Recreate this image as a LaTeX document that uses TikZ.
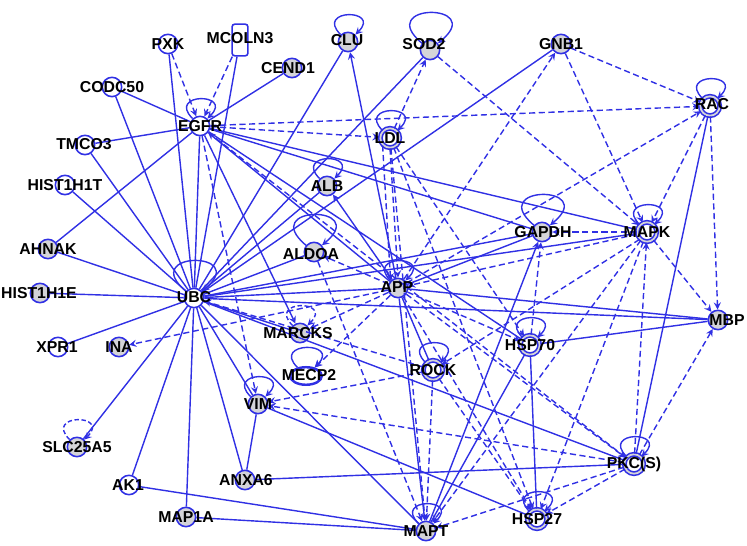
\documentclass[tikz,border=0pt]{standalone}
\usepackage{fontspec}
\setmainfont{Liberation Sans}
\usepackage{tikz}
\usetikzlibrary{shapes.geometric}
\usetikzlibrary{arrows}
\usetikzlibrary{shapes}

\definecolor{ipablue}{RGB}{48,48,228}
\definecolor{ipagray}{RGB}{212,212,216}

\tikzset{
  gene/.style={circle, draw=ipablue, fill=ipagray, line width=0.9pt, minimum size=11pt, inner sep=0pt},
  wgene/.style={gene, fill=white},
  cplx/.style={gene, fill=white, double=ipagray, double distance=1pt},
  chan/.style={rectangle, rounded corners=1.5pt, draw=ipablue, fill=white, line width=0.9pt, minimum width=9pt, minimum height=18pt, inner sep=0pt},
  peanut/.style={ellipse, draw=ipablue, fill=white, line width=1.4pt, minimum width=18pt, minimum height=10pt, inner sep=0pt},
  lbl/.style={font=\bfseries\fontsize{9}{10}\selectfont, text=black, inner sep=0pt},
  link/.style={draw=ipablue, line width=0.8pt},
  linkto/.style={link, -stealth},
  indl/.style={link, dash pattern=on 3.5pt off 2pt, -stealth},
  selfl/.style={link, -stealth, out=135, in=45, min distance=21pt},
  bigself/.style={selfl, out=140, in=40, min distance=36pt},
  selfd/.style={selfl, dash pattern=on 2.5pt off 1.5pt}
}

\begin{document}
\begin{tikzpicture}[x=0.02cm, y=-0.02cm]
        \useasboundingbox (0, 0) rectangle (747, 546);

        \node [wgene] (PXK) at (168, 44) {};
        \node [chan] (MCOLN3) at (240, 40) {};
        \node [gene] (CLU) at (348, 42) {};
        \node [gene] (SOD2) at (430, 50) {};
        \node [gene] (CEND1) at (292, 68) {};
        \node [gene] (GNB1) at (561, 44) {};
        \node [cplx] (RAC) at (710, 106) {};
        \node [wgene] (CODC50) at (112, 87) {};
        \node [wgene] (EGFR) at (200, 126) {};
        \node [cplx] (LDL) at (390, 138) {};
        \node [wgene] (TMCO3) at (85, 145) {};
        \node [wgene] (HIST1H1T) at (65, 185) {};
        \node [gene] (ALB) at (327, 186) {};
        \node [gene] (AHNAK) at (48, 249) {};
        \node [gene] (ALDOA) at (314, 252) {};
        \node [gene] (GAPDH) at (542, 232) {};
        \node [cplx] (MAPK) at (647, 232) {};
        \node [gene] (APP) at (398, 288) {};
        \node [wgene] (UBC) at (194, 298) {};
        \node [gene] (HIST1H1E) at (40, 293) {};
        \node [wgene] (XPR1) at (58, 347) {};
        \node [gene] (INA) at (119, 347) {};
        \node [gene] (MARCKS) at (300, 333) {};
        \node [peanut] (MECP2) at (306, 376) {};
        \node [cplx] (ROCK) at (433, 370) {};
        \node [cplx] (HSP70) at (530, 345) {};
        \node [gene] (MBP) at (718, 320) {};
        \node [gene] (VIM) at (258, 404) {};
        \node [gene] (SLC25A5) at (77, 447) {};
        \node [gene] (ANXA6) at (245, 480) {};
        \node [cplx] (PKCS) at (634, 464) {};
        \node [wgene] (AK1) at (129, 485) {};
        \node [gene] (MAP1A) at (186, 517) {};
        \node [gene] (MAPT) at (426, 531) {};
        \node [cplx] (HSP27) at (537, 519) {};

        \draw [link] (UBC) -- (HIST1H1T);
        \draw [link] (UBC) -- (AHNAK);
        \draw [link] (UBC) -- (HIST1H1E);
        \draw [link] (UBC) -- (XPR1);
        \draw [link] (UBC) -- (SLC25A5);
        \draw [link] (UBC) -- (AK1);
        \draw [link] (UBC) -- (MAP1A);
        \draw [link] (UBC) -- (ANXA6);
        \draw [link] (UBC) -- (VIM);
        \draw [link] (UBC) -- (MAPT);
        \draw [link] (UBC) -- (MARCKS);
        \draw [link] (UBC) -- (APP);
        \draw [link] (UBC) -- (EGFR);
        \draw [link] (UBC) -- (CLU);
        \draw [link] (UBC) -- (SOD2);
        \draw [link] (UBC) -- (GNB1);
        \draw [link] (UBC) -- (MCOLN3);
        \draw [link] (UBC) -- (PXK);
        \draw [link] (UBC) -- (CODC50);
        \draw [link] (UBC) -- (TMCO3);
        \draw [link] (UBC) -- (ALDOA);
        \draw [link] (UBC) -- (GAPDH);
        \draw [link] (UBC) -- (MAPK);
        \draw [link] (UBC) -- (MBP);
        \draw [link] (UBC) -- (PKCS);
        \draw [link] (UBC) -- (ALB);

        \draw [indl] (PXK) -- (EGFR);
        \draw [indl] (MCOLN3) -- (EGFR);
        \draw [link] (CODC50) -- (EGFR);
        \draw [link] (TMCO3) -- (EGFR);
        \draw [link] (CEND1) -- (EGFR);
        \draw [link] (AHNAK) -- (EGFR);
        \draw [link] (EGFR) -- (MAPK);
        \draw [link] (EGFR) -- (GAPDH);
        \draw [link] (EGFR) -- (HSP70);
        \draw [linkto] (APP) -- (EGFR);
        \draw [linkto] (EGFR) -- (MARCKS);
        \draw [indl] (EGFR) -- (RAC);
        \draw [indl] (EGFR) -- (LDL);
        \draw [indl] (EGFR) -- (VIM);
        \draw [indl] (EGFR) -- (PKCS);

        \draw [linkto] (APP) -- (ALB);
        \draw [linkto] (APP) -- (CLU);
        \draw [indl] (LDL) -- (SOD2);
        \draw [indl] (LDL.south west) -- (APP.north west);
        \draw [indl] (LDL.south) -- (APP.north);
        \draw [indl] (LDL) -- (HSP70);
        \draw [indl] (LDL) -- (MAPT);
        \draw [indl] (LDL) -- (HSP27);
        \draw [indl] (SOD2) -- (MAPK);
        \draw [indl] (APP) -- (GNB1);
        \draw [indl] (GNB1) -- (RAC);
        \draw [indl] (GNB1) -- (MAPK);
        \draw [indl] (APP) -- (RAC);
        \draw [indl] (RAC) -- (MAPK);
        \draw [indl] (RAC) -- (MBP);
        \draw [link] (RAC) -- (PKCS);

        \draw [indl] (APP) -- (ALDOA);
        \draw [indl] (ALDOA) -- (MAPT);
        \draw [link] (APP) -- (GAPDH);
        \draw [indl] (MAPK) -- (APP);
        \draw [link] (APP) -- (MBP);
        \draw [indl] (APP) -- (HSP70);
        \draw [link] (APP) -- (ROCK);
        \draw [linkto] (APP) -- (MAPT);
        \draw [indl] (APP) -- (HSP27);
        \draw [indl] (APP) -- (PKCS);
        \draw [indl] (APP) -- (MARCKS);
        \draw [indl] (APP) -- (MECP2);
        \draw [indl] (APP) -- (INA);

        \draw [indl] (MAPK) -- (MBP);
        \draw [indl] (MAPK) -- (HSP27);
        \draw [indl] (MAPK) -- (MAPT);
        \draw [indl] (MAPK) -- (GAPDH);
        \draw [indl] (MAPK.south west) -- (ROCK);
        \draw [indl] (PKCS) -- (MAPK);
        \draw [indl] (PKCS) -- (MBP);
        \draw [indl] (PKCS) -- (HSP27);
        \draw [indl] (PKCS) -- (MAPT);
        \draw [indl] (PKCS) -- (VIM);
        \draw [link] (ANXA6) -- (PKCS);

        \draw [link] (HSP70) -- (MBP);
        \draw [link] (HSP70) -- (MAPT);
        \draw [link] (HSP70) -- (HSP27);
        \draw [indl] (HSP70) -- (GAPDH);
        \draw [linkto] (MAPT) -- (GAPDH);

        \draw [indl] (ROCK) -- (VIM);
        \draw [indl] (ROCK) -- (MAPT);
        \draw [indl] (ROCK) -- (HSP27);
        \draw [indl] (ROCK) -- (UBC);
        \draw [link] (VIM) -- (ANXA6);
        \draw [link] (VIM) -- (HSP27);
        \draw [link] (AK1) -- (MAPT);
        \draw [link] (MAP1A) -- (MAPT);

        \draw [selfl] (CLU) to (CLU);
        \draw [bigself] (SOD2) to (SOD2);
        \draw [selfl] (RAC) to (RAC);
        \draw [selfl] (EGFR) to (EGFR);
        \draw [selfl] (LDL) to (LDL);
        \draw [selfl] (ALB) to (ALB);
        \draw [bigself] (ALDOA) to (ALDOA);
        \draw [bigself] (GAPDH) to (GAPDH);
        \draw [selfl] (MAPK) to (MAPK);
        \draw [selfl] (APP) to (APP);
        \draw [bigself] (UBC) to (UBC);
        \draw [selfd] (MARCKS) to (MARCKS);
        \draw [selfl] (MECP2) to (MECP2);
        \draw [selfl] (ROCK) to (ROCK);
        \draw [selfl] (HSP70) to (HSP70);
        \draw [selfl] (VIM) to (VIM);
        \draw [selfd] (SLC25A5) to (SLC25A5);
        \draw [selfl] (PKCS) to (PKCS);
        \draw [selfl] (MAPT) to (MAPT);
        \draw [selfl] (HSP27) to (HSP27);

        \node [lbl] at (PXK) {PXK};
        \node [lbl] at (240, 38) {MCOLN3};
        \node [lbl] at (347, 40) {CLU};
        \node [lbl] at (424, 44) {SOD2};
        \node [lbl] at (288, 68) {CEND1};
        \node [lbl] at (GNB1) {GNB1};
        \node [lbl] at (712, 104) {RAC};
        \node [lbl] at (CODC50) {CODC50};
        \node [lbl] at (EGFR) {EGFR};
        \node [lbl] at (LDL) {LDL};
        \node [lbl] at (84, 144) {TMCO3};
        \node [lbl] at (HIST1H1T) {HIST1H1T};
        \node [lbl] at (ALB) {ALB};
        \node [lbl] at (AHNAK) {AHNAK};
        \node [lbl] at (311, 254) {ALDOA};
        \node [lbl] at (543, 232) {GAPDH};
        \node [lbl] at (MAPK) {MAPK};
        \node [lbl] at (397, 287) {APP};
        \node [lbl] at (194, 297) {UBC};
        \node [lbl] at (39, 293) {HIST1H1E};
        \node [lbl] at (57, 347) {XPR1};
        \node [lbl] at (INA) {INA};
        \node [lbl] at (298, 333) {MARCKS};
        \node [lbl] at (309, 375) {MECP2};
        \node [lbl] at (ROCK) {ROCK};
        \node [lbl] at (HSP70) {HSP70};
        \node [lbl] at (727, 320) {MBP};
        \node [lbl] at (VIM) {VIM};
        \node [lbl] at (SLC25A5) {SLC25A5};
        \node [lbl] at (246, 480) {ANXA6};
        \node [lbl] at (PKCS) {PKC(S)};
        \node [lbl] at (128, 485) {AK1};
        \node [lbl] at (MAP1A) {MAP1A};
        \node [lbl] at (MAPT) {MAPT};
        \node [lbl] at (HSP27) {HSP27};
\end{tikzpicture}
\end{document}
